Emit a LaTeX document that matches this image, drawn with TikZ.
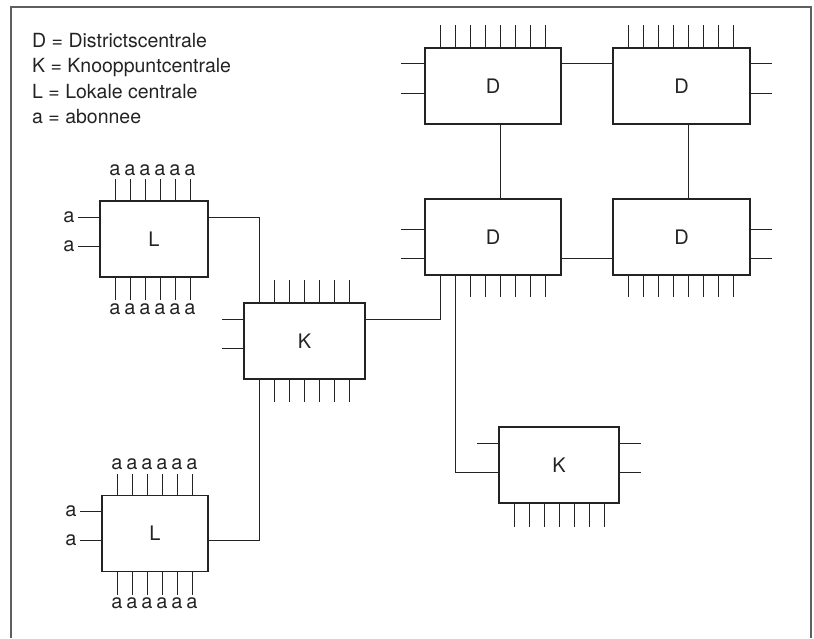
\documentclass[tikz,border=0pt]{standalone}
\usepackage{fontspec}
\setmainfont{TeX Gyre Heros}
\usetikzlibrary{positioning}
\definecolor{inkt}{RGB}{35,35,35}
\definecolor{rand}{RGB}{95,95,95}
\tikzset{
  centrale/.style={draw=inkt,line width=1.1pt,minimum width=#1,minimum height=76pt,
    inner sep=0pt,outer sep=0pt,text=inkt,font=\fontsize{20}{24}\selectfont},
  centrale/.default=120pt,
  draad/.style={draw=inkt,line width=0.9pt},
  lijn/.style={draw=inkt,line width=0.9pt},
  abon/.style={inner sep=0pt,text=inkt,font=\fontsize{20}{24}\selectfont},
  kader/.style={draw=rand,line width=1.4pt},
}

\begin{document}
\begin{tikzpicture}[x=1pt,y=-1pt]
  \useasboundingbox (0,0) rectangle (814,638);
  \draw[kader] (11,638) -- (11,7) -- (811,7) -- (811,638);

  \node[anchor=north west,align=left,inner sep=0pt,text=inkt,font=\fontsize{19.5}{25.3}\selectfont] (legenda) at (32,33)
    {D = Districtscentrale\\K = Knooppuntcentrale\\L = Lokale centrale\\a = abonnee};

  % centrales
  \node[centrale=108pt] (L1) at (154,239) {L};
  \node[centrale=106pt] (L2) at (155,533.5) {L};
  \node[centrale=121pt] (K1) at (304.5,341) {K};
  \node[centrale=120pt] (K2) at (559,465) {K};
  \node[centrale=136pt] (DTL) at (493,86) {D};
  \node[centrale=137pt] (DTR) at (681.5,86) {D};
  \node[centrale=136pt] (DBL) at (493,237) {D};
  \node[centrale=137pt] (DBR) at (681.5,237) {D};

  % abonnees aan de lokale centrales
  \foreach \c in {L1,L2}{
    \foreach \k in {1,...,6}{
      \draw[draad] ([xshift=\k*15pt]\c.north west) -- ++(0,22pt) node[abon,above=3pt] (\c-t\k) {a};
      \draw[draad] ([xshift=\k*15pt]\c.south west) -- ++(0,-23pt) node[abon,below=3pt] (\c-b\k) {a};
    }
    \foreach \y/\n in {16/1,45/2}
      \draw[draad] ([yshift=-\y pt]\c.north west) -- ++(-22pt,0) node[abon,left=3pt] (\c-l\n) {a};
  }

  % losse aansluitingen
  \foreach \k in {2,...,7}{
    \draw[draad] ([xshift=\k*15pt]K1.north west) -- ++(0,23pt);
    \draw[draad] ([xshift=\k*15pt]K1.south west) -- ++(0,-23pt);
  }
  \foreach \k in {1,...,7} \draw[draad] ([xshift=\k*15pt]K2.south west) -- ++(0,-24pt);
  \foreach \k in {1,...,8}{
    \draw[draad] ([xshift=\k*15pt]DTL.north west) -- ++(0,23pt);
    \draw[draad] ([xshift=\k*15pt]DTR.north west) -- ++(0,23pt);
    \draw[draad] ([xshift=\k*15pt]DBR.south west) -- ++(0,-22pt);
  }
  \foreach \k in {3,...,8} \draw[draad] ([xshift=\k*15pt]DBL.south west) -- ++(0,-22pt);

  \foreach \y in {16,45} \draw[draad] ([yshift=-\y pt]K1.north west) -- ++(-22pt,0);
  \draw[draad] ([yshift=-16pt]K2.north west) -- ++(-22pt,0);
  \foreach \y in {16,45} \draw[draad] ([yshift=-\y pt]K2.north east) -- ++(22pt,0);
  \foreach \y in {15,45}{
    \draw[draad] ([yshift=-\y pt]DTL.north west) -- ++(-24pt,0);
    \draw[draad] ([yshift=-\y pt]DTR.north east) -- ++(22pt,0);
  }
  \foreach \y in {30,59}{
    \draw[draad] ([yshift=-\y pt]DBL.north west) -- ++(-24pt,0);
    \draw[draad] ([yshift=-\y pt]DBR.north east) -- ++(22pt,0);
  }

  % verbindingen
  \draw[lijn] ([yshift=-16pt]L1.north east) -| ([xshift=15pt]K1.north west);
  \draw[lijn] ([yshift=-45pt]L2.north east) -| ([xshift=15pt]K1.south west);
  \draw[lijn] ([yshift=-16pt]K1.north east) -| ([xshift=15pt]DBL.south west);
  \draw[lijn] ([xshift=30pt]DBL.south west) |- ([yshift=-45pt]K2.north west);
  \draw[lijn] ([yshift=-15pt]DTL.north east) -- ([yshift=-15pt]DTR.north west);
  \draw[lijn] ([yshift=-59pt]DBL.north east) -- ([yshift=-59pt]DBR.north west);
  \draw[lijn] ([xshift=75pt]DTL.south west) -- ([xshift=75pt]DBL.north west);
  \draw[lijn] ([xshift=75pt]DTR.south west) -- ([xshift=75pt]DBR.north west);
\end{tikzpicture}
\end{document}
